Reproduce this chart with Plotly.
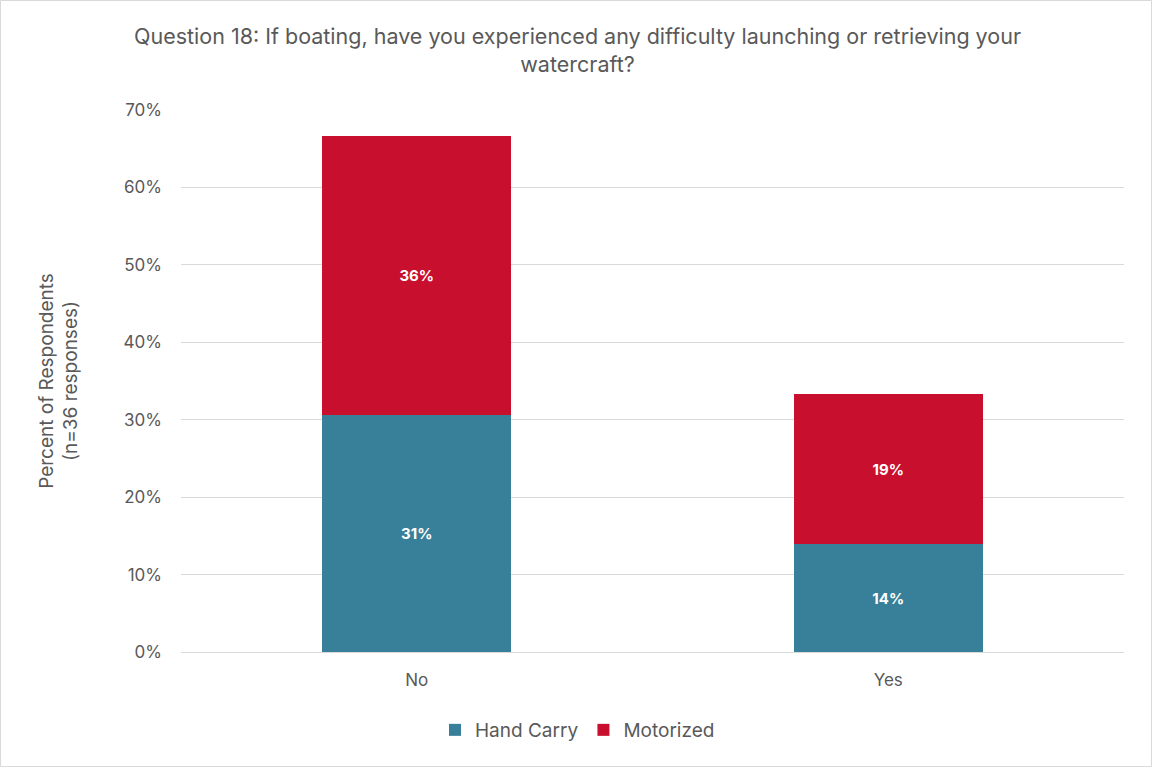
import plotly.graph_objects as go

categories = ["No", "Yes"]
hand_carry = [30.6, 13.9]
motorized = [36.1, 19.4]
series_names = ["Hand Carry", "Motorized"]
colors = ["#387F99", "#C8102E"]
title_text = "Question 18: If boating, have you experienced any difficulty launching or retrieving your<br>watercraft?"
y_title = "Percent of Respondents<br>(n=36 responses)"

FONT = "Inter, Open Sans, sans-serif"
GREY = "#595959"
PW, PH = 943, 542

fig = go.Figure()
for name, vals, col in zip(series_names, [hand_carry, motorized], colors):
    fig.add_trace(go.Bar(
        x=categories, y=vals, name=name, marker=dict(color=col, line=dict(width=0)),
        texttemplate="%{y:.0f}%", textposition="inside", insidetextanchor="middle",
        textfont=dict(family=FONT, size=15, color="white", weight="bold"),
    ))

fig.update_layout(
    barmode="stack", bargap=0.6,
    width=1152, height=767,
    paper_bgcolor="white", plot_bgcolor="white",
    margin=dict(l=181, r=28, t=110, b=115),
    font=dict(family=FONT, color=GREY),
    legend=dict(orientation="h", x=(577.5 - 181) / PW, xanchor="center", y=-78 / PH, yanchor="middle",
                font=dict(family=FONT, size=19, color=GREY), traceorder="normal",
                itemwidth=30),
)
fig.add_annotation(text=title_text, xref="paper", yref="paper", x=(577 - 181) / PW, y=1 + (110 - 50) / PH,
                   xanchor="center", yanchor="middle", showarrow=False,
                   font=dict(family=FONT, size=21.5, color=GREY))
fig.update_yaxes(range=[0, 70], dtick=10, ticksuffix="%", showgrid=True, gridcolor="#D9D9D9",
                 gridwidth=1, zeroline=True, zerolinecolor="#D9D9D9", zerolinewidth=1,
                 tickfont=dict(family=FONT, size=17, color=GREY), ticks="", ticklabelstandoff=18,
                 title=dict(text=y_title, font=dict(family=FONT, size=19, color=GREY), standoff=40))
fig.update_xaxes(showline=True, linecolor="#D9D9D9", tickfont=dict(family=FONT, size=17, color=GREY),
                 ticks="", ticklabelstandoff=13)
fig.add_shape(type="rect", xref="paper", yref="paper", x0=-180.5 / PW, x1=1 + 27.5 / PW,
              y0=-114.5 / PH, y1=1 + 109.5 / PH,
              line=dict(color="#D9D9D9", width=1), fillcolor="rgba(0,0,0,0)", layer="below")

fig.write_html("out.html", config={"displayModeBar": False},
               post_script="document.body.style.margin='0';document.body.style.overflow='hidden';")
